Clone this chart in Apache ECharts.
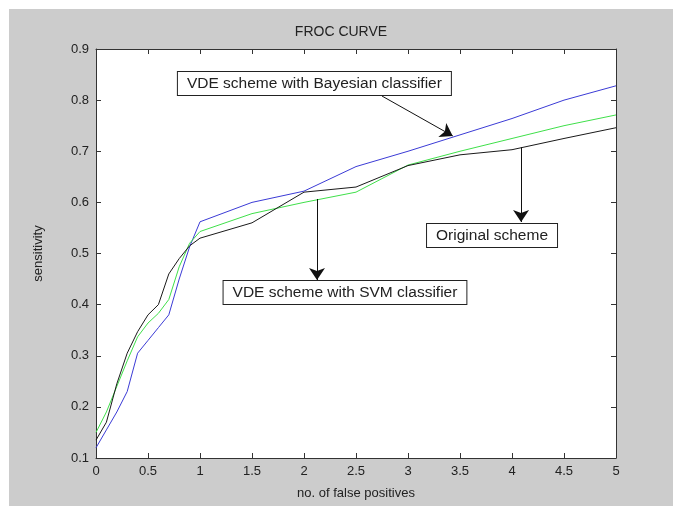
<!DOCTYPE html>
<html>
<head>
<meta charset="utf-8">
<script src="https://cdn.jsdelivr.net/npm/echarts@6/dist/echarts.min.js"></script>
<style>
  html, body { margin: 0; padding: 0; background: #fff; }
  #wrap { position: relative; width: 673px; height: 506px; background: #fff; }
  #chart { position: absolute; left: 9px; top: 9px; width: 664px; height: 497px; }
</style>
</head>
<body>
<div id="wrap"><div id="chart"></div></div>
<script>
// false positives (x) shared by all three curves
const falsePositives = [0, 0.1, 0.2, 0.3, 0.4, 0.5, 0.6, 0.7, 0.8, 0.9, 1, 1.5, 2, 2.5, 3, 3.5, 4, 4.5, 5]

// sensitivity per scheme
const bayesSens = [0.12, 0.155, 0.19, 0.23, 0.305, 0.33, 0.355, 0.38, 0.45, 0.513, 0.562, 0.60, 0.622, 0.67, 0.70, 0.732, 0.764, 0.80, 0.828]
const svmSens = [0.15, 0.19, 0.24, 0.29, 0.337, 0.364, 0.383, 0.41, 0.474, 0.52, 0.543, 0.578, 0.60, 0.62, 0.673, 0.70, 0.725, 0.75, 0.771]
const origSens = [0.135, 0.17, 0.245, 0.305, 0.347, 0.38, 0.40, 0.46, 0.49, 0.515, 0.53, 0.56, 0.62, 0.63, 0.672, 0.693, 0.703, 0.725, 0.746]

// tick labels
const xTicks = [0, 0.5, 1, 1.5, 2, 2.5, 3, 3.5, 4, 4.5, 5]
const xTickLabels = ['0', '0.5', '1', '1.5', '2', '2.5', '3', '3.5', '4', '4.5', '5']
const yTicks = [0.1, 0.2, 0.3, 0.4, 0.5, 0.6, 0.7, 0.8, 0.9]
const yTickLabels = ['0.1', '0.2', '0.3', '0.4', '0.5', '0.6', '0.7', '0.8', '0.9']

// annotation boxes (text, centre in data units) and arrows (from -> to)
const boxTexts = ['VDE scheme with Bayesian classifier', 'VDE scheme with SVM classifier', 'Original scheme']
const boxCentres = [[2.10, 0.8325], [2.394, 0.4237], [3.808, 0.535]]
const arrowStarts = [[2.75, 0.808], [2.125, 0.6066], [4.087, 0.708]]
const arrowEnds = [[3.43, 0.73], [2.125, 0.448], [4.087, 0.5616]]

const FONT = 'Liberation Sans, Arial, sans-serif'
const TEXT = '#222'
const AXIS = '#333'

const pick = (ticks, labels) => v => {
  const i = ticks.findIndex(t => Math.abs(t - v) < 1e-6)
  return i >= 0 ? labels[i] : ''
}

const pairs = ys => falsePositives.map((x, i) => [x, ys[i]])

const baseX = {
  type: 'value', min: 0, max: 5, interval: 0.5,
  axisLine: { show: true, onZero: false, lineStyle: { color: AXIS, width: 1 } },
  axisTick: { show: true, inside: true, length: 5, lineStyle: { color: AXIS } },
  splitLine: { show: false }
}
const baseY = {
  type: 'value', min: 0.1, max: 0.9, interval: 0.1,
  axisLine: { show: true, onZero: false, lineStyle: { color: AXIS, width: 1 } },
  axisTick: { show: true, inside: true, length: 5, lineStyle: { color: AXIS } },
  splitLine: { show: false }
}

const curve = (name, ys, color) => ({
  name, type: 'line', data: pairs(ys), symbol: 'none',
  lineStyle: { color, width: 1 }, itemStyle: { color },
  emphasis: { disabled: true }, animation: false
})

const chart = echarts.init(document.getElementById('chart'))
chart.setOption({
  backgroundColor: '#cccccc',
  animation: false,
  title: {
    text: 'FROC CURVE', left: 'center', top: 11,
    textStyle: { fontFamily: FONT, fontSize: 14, fontWeight: 'normal', color: TEXT }
  },
  grid: { left: 87, top: 40, right: 57, bottom: 48, backgroundColor: '#fff', show: true, borderWidth: 0 },
  xAxis: [
    {
      ...baseX, position: 'bottom',
      name: 'no. of false positives', nameLocation: 'middle', nameGap: 29,
      nameTextStyle: { fontFamily: FONT, fontSize: 13, color: TEXT },
      axisLabel: { fontFamily: FONT, fontSize: 13, color: TEXT, margin: 7, formatter: pick(xTicks, xTickLabels) }
    },
    { ...baseX, position: 'top', axisLabel: { show: false } }
  ],
  yAxis: [
    {
      ...baseY, position: 'left',
      name: 'sensitivity', nameLocation: 'middle', nameGap: 51,
      nameTextStyle: { fontFamily: FONT, fontSize: 13, color: TEXT },
      axisLabel: { fontFamily: FONT, fontSize: 13, color: TEXT, margin: 7, formatter: pick(yTicks, yTickLabels) }
    },
    { ...baseY, position: 'right', axisLabel: { show: false } }
  ],
  series: [
    curve('VDE scheme with Bayesian classifier', bayesSens, '#3b3bd6'),
    curve('VDE scheme with SVM classifier', svmSens, '#3fe04a'),
    curve('Original scheme', origSens, '#1a1a1a'),
    {
      type: 'line', data: [], silent: true,
      markLine: {
        silent: true, animation: false,
        symbol: ['none', 'arrow'], symbolSize: 12,
        lineStyle: { color: '#111', width: 1, type: 'solid' },
        label: { show: false },
        data: arrowStarts.map((s, i) => [{ coord: s }, { coord: arrowEnds[i] }])
      },
      markPoint: {
        silent: true, animation: false,
        symbol: 'rect', symbolSize: 0,
        label: {
          show: true, position: 'inside',
          fontFamily: FONT, fontSize: 15.5, color: TEXT,
          backgroundColor: '#fff', borderColor: '#222', borderWidth: 1,
          padding: [4, 9, 3, 9]
        },
        data: boxCentres.map((c, i) => ({ coord: c, value: boxTexts[i], label: { formatter: boxTexts[i] } }))
      }
    }
  ]
})
</script>
</body>
</html>
